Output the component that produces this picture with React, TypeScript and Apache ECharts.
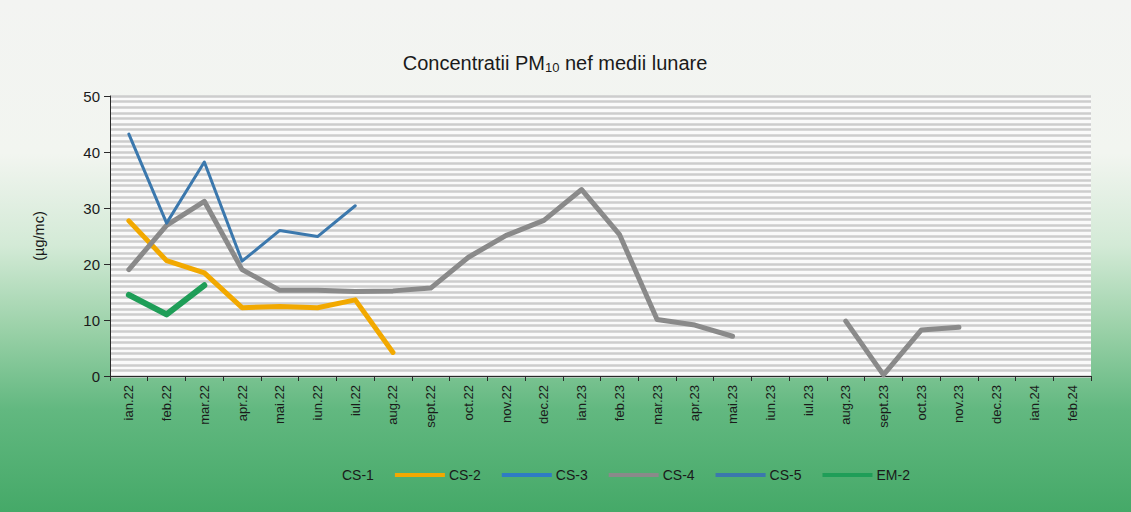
import React, { useEffect, useRef } from "react";
import * as echarts from "echarts";

const categories = [
  "ian.22", "feb.22", "mar.22", "apr.22", "mai.22", "iun.22", "iul.22", "aug.22",
  "sept.22", "oct.22", "nov.22", "dec.22", "ian.23", "feb.23", "mar.23", "apr.23",
  "mai.23", "iun.23", "iul.23", "aug.23", "sept.23", "oct.23", "nov.23", "dec.23",
  "ian.24", "feb.24",
];

const cs1: (number | null)[] = [];
const cs2: (number | null)[] = [27.7, 20.6, 18.4, 12.2, 12.4, 12.2, 13.6, 4.2];
const cs3: (number | null)[] = [];
const cs4: (number | null)[] = [
  19.0, 26.9, 31.2, 19.0, 15.3, 15.3, 15.1, 15.2, 15.7, 21.2, 25.1, 27.8, 33.3,
  25.3, 10.1, 9.1, 7.1, null, null, 9.8, 0.2, 8.2, 8.7,
];
const cs5: (number | null)[] = [43.2, 27.3, 38.2, 20.5, 26.0, 24.9, 30.4];
const em2: (number | null)[] = [14.5, 11.0, 16.2];

const yTicks = [0, 10, 20, 30, 40, 50];

export default function App() {
  const ref = useRef<HTMLDivElement>(null);

  useEffect(() => {
    document.body.style.margin = "0";
    if (!ref.current) return;
    const chart = echarts.init(ref.current, null, { renderer: "svg" });
    const font = "'Liberation Sans', Arial, sans-serif";
    const mk = (name: string, data: (number | null)[], color: string, width: number) => ({
      name,
      type: "line",
      data,
      yAxisIndex: 0,
      symbol: "none",
      connectNulls: false,
      color,
      lineStyle: { color, width, cap: "round", join: "round" },
      itemStyle: { color },
    });
    chart.setOption({
      animation: false,
      backgroundColor: "transparent",
      textStyle: { fontFamily: font },
      title: {
        text: "{a|Concentratii PM}{s|10}{a| nef medii lunare}",
        left: 550,
        top: 47,
        textAlign: "center",
        textStyle: {
          fontWeight: "normal",
          rich: {
            a: { fontSize: 20, color: "#1a1a1a", fontFamily: font, fontWeight: "normal" },
            s: { fontSize: 13, color: "#1a1a1a", fontFamily: font, fontWeight: "normal", verticalAlign: "bottom", padding: [9, 0, 0, 0] },
          },
        },
      },
      legend: {
        left: 283,
        top: 463,
        icon: "rect",
        itemWidth: 50,
        itemHeight: 4,
        itemGap: 21,
        textStyle: { fontSize: 14, color: "#1a1a1a", fontFamily: font, padding: [0, 0, 0, -1] },
        data: ["CS-1", "CS-2", "CS-3", "CS-4", "CS-5", "EM-2"],
      },
      grid: {
        left: 110,
        right: 40,
        top: 96,
        bottom: 136,
        show: true,
        backgroundColor: "#fafafa",
        borderWidth: 0,
      },
      xAxis: {
        type: "category",
        data: categories,
        boundaryGap: true,
        axisLine: { lineStyle: { color: "#2a2a2a", width: 1 } },
        axisTick: { show: true, interval: 0, length: 5, lineStyle: { color: "#2a2a2a" } },
        axisLabel: { interval: 0, rotate: 90, fontSize: 13, color: "#1a1a1a", margin: 9, fontFamily: font },
        splitLine: { show: false },
      },
      yAxis: [
        {
          type: "value",
          min: yTicks[0],
          max: yTicks[yTicks.length - 1],
          interval: 10,
          name: "(µg/mc)",
          nameLocation: "middle",
          nameRotate: 90,
          nameGap: 64,
          nameTextStyle: { fontSize: 14.5, color: "#1a1a1a", fontFamily: font },
          axisLine: { show: true, lineStyle: { color: "#2a2a2a", width: 1 } },
          axisTick: { show: true, length: 6, lineStyle: { color: "#2a2a2a" } },
          axisLabel: { fontSize: 15, color: "#1a1a1a", margin: 10, fontFamily: font },
          splitLine: { show: false },
        },
        {
          type: "value",
          min: 0,
          max: 50,
          interval: 1,
          position: "left",
          axisLine: { show: false },
          axisTick: { show: false },
          axisLabel: { show: false },
          splitLine: { show: true, lineStyle: { color: "#cdcdcd", width: 2.6 } },
        },
      ],
      series: [
        mk("CS-1", cs1, "rgba(0,0,0,0)", 4),
        mk("CS-2", cs2, "#f2a900", 5),
        mk("CS-3", cs3, "#2f7cc4", 5),
        mk("CS-4", cs4, "#8a8a8a", 5),
        mk("CS-5", cs5, "#3b78ad", 3),
        mk("EM-2", em2, "#1f9e58", 6),
      ],
    });
    return () => chart.dispose();
  }, []);

  return (
    <div
      style={{
        width: 1131,
        height: 512,
        background:
          "linear-gradient(180deg, #f3f4f2 0%, #f2f5f0 30%, #d3ead6 48%, #98d0a6 65%, #62b880 80%, #45a968 100%)",
      }}
    >
      <div ref={ref} style={{ width: 1131, height: 512 }} />
    </div>
  );
}
